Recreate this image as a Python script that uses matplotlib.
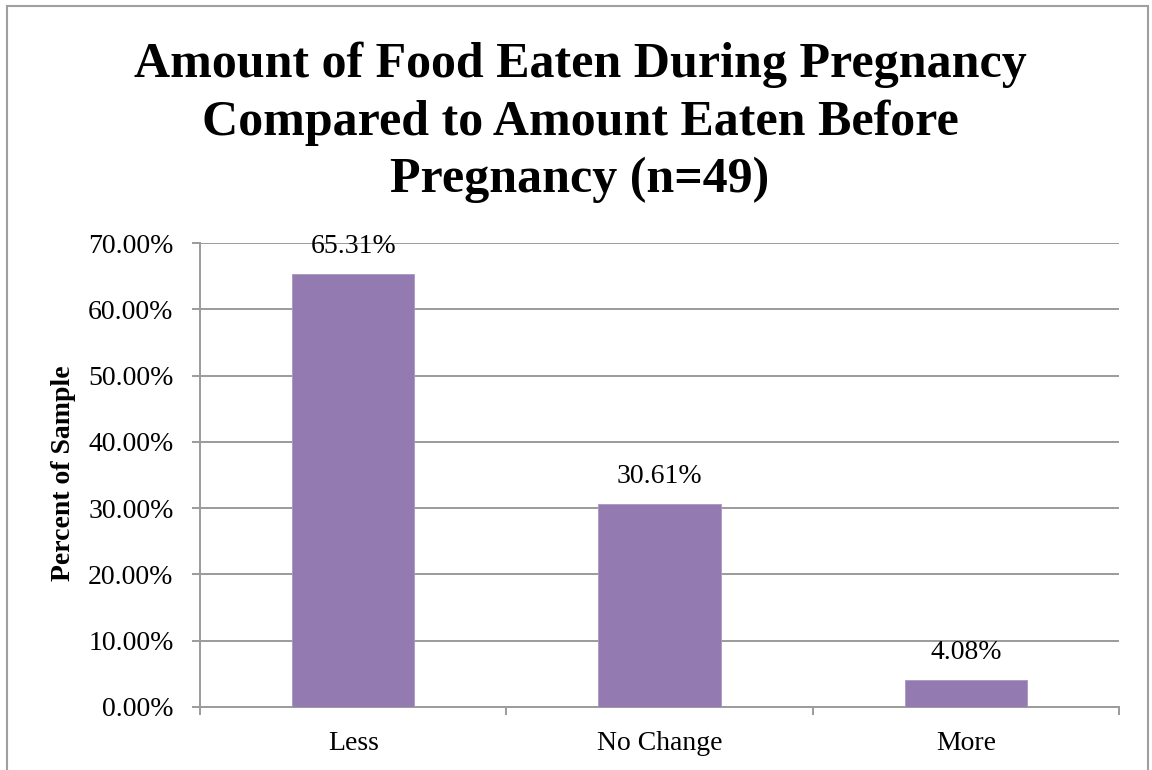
import matplotlib
matplotlib.use("Agg")
import matplotlib.pyplot as plt
from matplotlib.patches import Rectangle
from matplotlib.ticker import FuncFormatter, MultipleLocator

categories = ["Less", "No Change", "More"]
percent_of_sample = [65.31, 30.61, 4.08]

title = "Amount of Food Eaten During Pregnancy\nCompared to Amount Eaten Before\nPregnancy (n=49)"
y_label = "Percent of Sample"

bar_color = "#937BB1"
grid_color = "#9B9B9B"
serif = ["Liberation Serif", "DejaVu Serif"]

W, H = 1152, 770
fig = plt.figure(figsize=(W / 100, H / 100), dpi=100)
fig.patch.set_facecolor("white")

# chart frame
fig.add_artist(Rectangle((7 / W, -0.05), (1148 - 7) / W, 1.05 - 6 / H,
                         transform=fig.transFigure, fill=False,
                         edgecolor="#A0A0A0", linewidth=1.5))

ax = fig.add_axes([200 / W, 1 - 707 / H, (1119 - 200) / W, (707 - 243) / H])
x = list(range(len(categories)))
bars = ax.bar(x, percent_of_sample, width=0.4, color=bar_color,
              edgecolor="#A996C4", linewidth=0.6, zorder=3)

ax.set_xlim(-0.5, len(categories) - 0.5)
ax.set_ylim(0, 70)
ax.yaxis.set_major_locator(MultipleLocator(10))
ax.yaxis.set_major_formatter(FuncFormatter(lambda v, _: f"{v:.2f}%"))
ax.grid(axis="y", color=grid_color, linewidth=1.4, zorder=0)
ax.set_axisbelow(True)

for side in ("top", "right"):
    ax.spines[side].set_visible(False)
for side in ("left", "bottom"):
    ax.spines[side].set_color(grid_color)
    ax.spines[side].set_linewidth(1.4)

ax.set_xticks(x)
ax.set_xticklabels(categories)
ax.set_xticks([i - 0.5 for i in range(len(categories) + 1)], minor=True)
ax.tick_params(axis="x", which="major", length=0, pad=17)
ax.tick_params(axis="x", which="minor", length=6, width=1.4, color=grid_color)
ax.tick_params(axis="y", length=6, width=1.4, color=grid_color, pad=13)
for lbl in ax.get_xticklabels() + ax.get_yticklabels():
    lbl.set_fontfamily(serif)
    lbl.set_fontsize(20)
    lbl.set_color("black")

for xi, v in zip(x, percent_of_sample):
    ax.annotate(f"{v:.2f}%", (xi, v), xytext=(0, 20), textcoords="offset points",
                ha="center", va="center", fontsize=20, family=serif)

fig.text(63 / W, 1 - 473 / H, y_label, rotation=90, ha="center", va="center",
         fontsize=20, fontweight="bold", family=serif)

fig.text(580 / W, 1 - 42 / H, title, ha="center", va="top", fontsize=36,
         fontweight="bold", family=serif, linespacing=1.3)

fig.savefig("out.png", dpi=100)
